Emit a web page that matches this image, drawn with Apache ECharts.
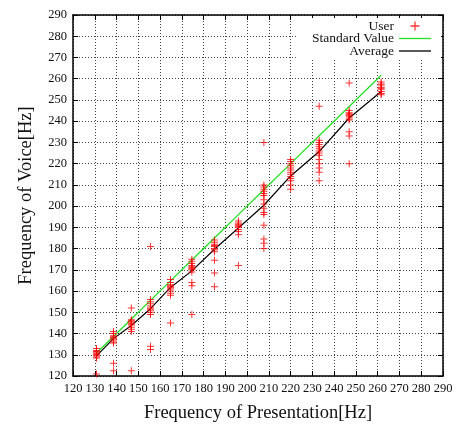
<!DOCTYPE html>
<html>
<head>
<meta charset="utf-8">
<script src="https://cdn.jsdelivr.net/npm/echarts@6/dist/echarts.min.js"></script>
<style>
  html, body { margin: 0; padding: 0; background: #fff; }
  #chart { width: 461px; height: 428px; }
</style>
</head>
<body>
<div id="chart"></div>
<script>
// presented note frequencies (Hz)
var notes = [130.8, 138.6, 146.8, 155.6, 164.8, 174.6, 185.0, 196.0, 207.7, 220.0, 233.1, 246.9, 261.6];

// voice frequencies sung by the users, one list per note
var voice130 = [133, 132, 131.5, 131, 130.5, 130, 129.5, 129, 128.5, 121];
var voice138 = [141, 140, 139, 138.5, 138, 137.5, 137, 136, 135.5, 126, 122.5];
var voice146 = [152, 146.5, 146, 145.5, 145, 144.5, 144, 143, 142, 141, 122.5];
var voice155 = [181, 156, 155, 154, 153, 152, 151.5, 151, 150, 149, 134, 132.5];
var voice164 = [165.5, 164, 163, 162.5, 162, 161.5, 161, 160, 159, 158, 145];
var voice174 = [175, 174, 173, 172, 171.5, 171, 170.5, 170, 169, 164, 162.5, 149];
var voice185 = [184, 183, 182, 181.5, 181, 180, 179.5, 178.5, 174.5, 168.5, 162];
var voice196 = [193, 192, 191.5, 191, 190.5, 190, 189, 188, 186.5, 172];
var voice207 = [230, 210, 209, 208, 207, 206, 205, 203, 201, 199, 197, 196, 191, 184.5, 182.5, 180];
var voice220 = [222, 221, 220, 219, 218, 217, 216, 215, 214, 213, 212, 210, 208];
var voice233 = [247, 231, 230, 229, 228, 227, 226, 225, 224, 222, 220, 218, 216, 212];
var voice246 = [258, 245, 244, 243.5, 243, 242.5, 242, 241, 240.5, 235, 233, 220];
var voice261 = [258.5, 257.5, 257, 256, 255.5, 255, 254, 253, 252.5];

// average of the users per note
var average = [129.5, 137.6, 143.8, 151.7, 161.7, 169.5, 179.7, 189.7, 200.4, 214.2, 225.7, 241.5, 254];

var voiceLists = [voice130, voice138, voice146, voice155, voice164, voice174, voice185,
                  voice196, voice207, voice220, voice233, voice246, voice261];

var userPoints = [];
voiceLists.forEach(function (list, i) {
  list.forEach(function (v) { userPoints.push([notes[i], v]); });
});
var standardLine = notes.map(function (n) { return [n, n]; });
var averageLine = notes.map(function (n, i) { return [n, average[i]]; });

var font = 'Liberation Serif';
var plus = 'path://M3,0h1v3h3v1h-3v3h-1v-3h-3v-1h3z';
var dash = 'path://M0,0h32v1.3h-32z';

function mainAxis(pos, name, gap, rotate) {
  return {
    type: 'value', position: pos, min: 120, max: 290, interval: 10,
    name: name, nameLocation: 'middle', nameGap: gap, nameRotate: rotate,
    nameTextStyle: { fontFamily: font, fontSize: 18.5, color: '#111' },
    axisLine: { show: true, onZero: false, lineStyle: { color: '#000', width: 1.5 } },
    axisTick: { show: true, inside: true, length: 5, lineStyle: { color: '#000' } },
    axisLabel: { fontFamily: font, fontSize: 12.5, color: '#111', margin: 6 },
    splitLine: { show: true, lineStyle: { color: '#444', type: [1, 2], width: 1 } }
  };
}
function mirrorAxis(pos) {
  return {
    type: 'value', position: pos, min: 120, max: 290, interval: 10,
    axisLine: { show: true, onZero: false, lineStyle: { color: '#000', width: 1.5 } },
    axisTick: { show: true, inside: true, length: 5, lineStyle: { color: '#000' } },
    axisLabel: { show: false },
    splitLine: { show: false }
  };
}

var chart = echarts.init(document.getElementById('chart'));
chart.setOption({
  animation: false,
  backgroundColor: '#fff',
  grid: { left: 73, right: 18, top: 15, bottom: 43 },
  xAxis: [mainAxis('bottom', 'Frequency of Presentation[Hz]', 28, 0), mirrorAxis('top')],
  yAxis: [mainAxis('left', 'Frequency of Voice[Hz]', 37, 90), mirrorAxis('right')],
  legend: {
    orient: 'vertical', align: 'right', right: 20, top: 18,
    padding: [1, 10, 1, 16], backgroundColor: '#fff',
    itemWidth: 32, itemHeight: 9, itemGap: -1.5,
    textStyle: { fontFamily: font, fontSize: 13.5, color: '#111' },
    data: [
      { name: 'User', icon: plus },
      { name: 'Standard Value', icon: dash },
      { name: 'Average', icon: dash }
    ]
  },
  series: [
    {
      name: 'User', type: 'scatter', data: userPoints,
      symbol: plus, symbolSize: 7,
      itemStyle: { color: '#ff0000' }, z: 3
    },
    {
      name: 'Standard Value', type: 'line', data: standardLine,
      symbol: 'none', lineStyle: { color: '#22e022', width: 1.3 },
      itemStyle: { color: '#22e022' }
    },
    {
      name: 'Average', type: 'line', data: averageLine,
      symbol: 'none', lineStyle: { color: '#000', width: 1.2 },
      itemStyle: { color: '#000' }
    }
  ]
});
</script>
</body>
</html>
